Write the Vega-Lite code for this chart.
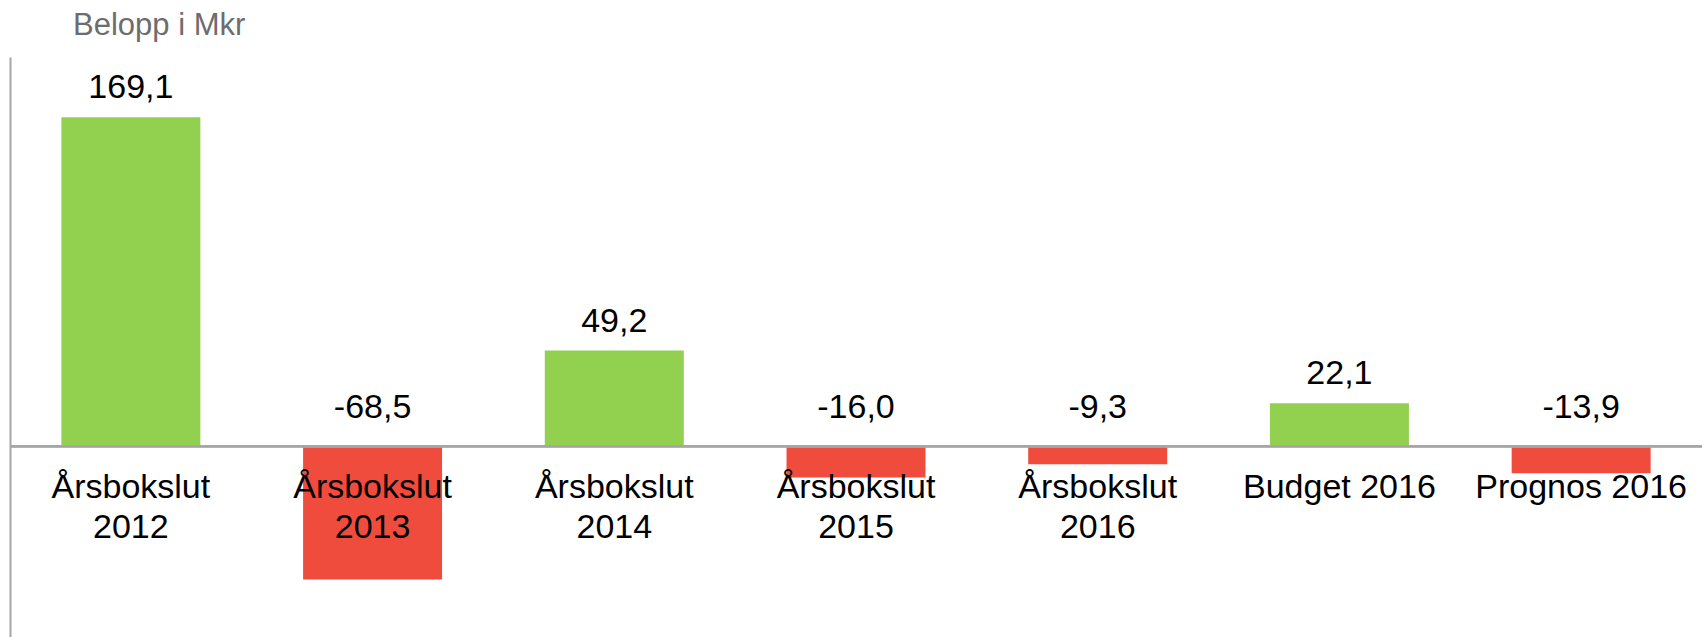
{
  "$schema": "https://vega.github.io/schema/vega-lite/v6.json",
  "autosize": {"type": "none"},
  "width": 1692,
  "height": 580,
  "padding": {"left": 10, "top": 57, "right": 2, "bottom": 0},
  "background": "white",
  "title": {
    "text": "Belopp i Mkr",
    "anchor": "start",
    "frame": "group",
    "orient": "top",
    "baseline": "alphabetic",
    "offset": 24,
    "dx": 63,
    "dy": 33,
    "font": "Liberation Sans",
    "fontSize": 31,
    "fontWeight": "normal",
    "color": "#6d6d6d"
  },
  "config": {
    "view": {"stroke": null},
    "locale": {
      "number": {"decimal": ",", "thousands": " ", "grouping": [3], "currency": ["", " kr"], "minus": "-"}
    },
    "text": {"font": "Liberation Sans", "fontSize": 34, "color": "#000000", "lineBreak": "\n", "lineHeight": 40}
  },
  "data": {
    "values": [
      {"category": "Årsbokslut\n2012", "value": 169.1},
      {"category": "Årsbokslut\n2013", "value": -68.5},
      {"category": "Årsbokslut\n2014", "value": 49.2},
      {"category": "Årsbokslut\n2015", "value": -16.0},
      {"category": "Årsbokslut\n2016", "value": -9.3},
      {"category": "Budget 2016", "value": 22.1},
      {"category": "Prognos 2016", "value": -13.9}
    ]
  },
  "encoding": {
    "x": {
      "field": "category",
      "type": "nominal",
      "sort": null,
      "axis": null,
      "scale": {"paddingInner": 0.425, "paddingOuter": 0.2125}
    }
  },
  "layer": [
    {
      "mark": {"type": "bar"},
      "encoding": {
        "y": {
          "field": "value",
          "type": "quantitative",
          "scale": {"domain": [-98, 200], "nice": false, "zero": true},
          "axis": {
            "title": null,
            "labels": false,
            "ticks": false,
            "grid": false,
            "domain": true,
            "domainColor": "#a6a6a6",
            "domainWidth": 2
          }
        },
        "color": {
          "condition": {"test": "datum.value < 0", "value": "#f04c3e"},
          "value": "#92d050"
        }
      }
    },
    {
      "mark": {"type": "rule", "color": "#a6a6a6", "strokeWidth": 2},
      "encoding": {"y": {"datum": 0, "type": "quantitative"}, "x": {"value": 0}, "x2": {"value": 1692}}
    },
    {
      "transform": [{"filter": "datum.value >= 0"}],
      "mark": {"type": "text", "baseline": "alphabetic", "dy": -19},
      "encoding": {
        "y": {"field": "value", "type": "quantitative"},
        "text": {"field": "value", "type": "quantitative", "format": ".1f"}
      }
    },
    {
      "transform": [{"filter": "datum.value < 0"}],
      "mark": {"type": "text", "baseline": "alphabetic", "dy": -28},
      "encoding": {
        "y": {"datum": 0, "type": "quantitative"},
        "text": {"field": "value", "type": "quantitative", "format": ".1f"}
      }
    },
    {
      "mark": {"type": "text", "baseline": "alphabetic", "dy": 52},
      "encoding": {
        "y": {"datum": 0, "type": "quantitative"},
        "text": {"field": "category", "type": "nominal"}
      }
    }
  ]
}
